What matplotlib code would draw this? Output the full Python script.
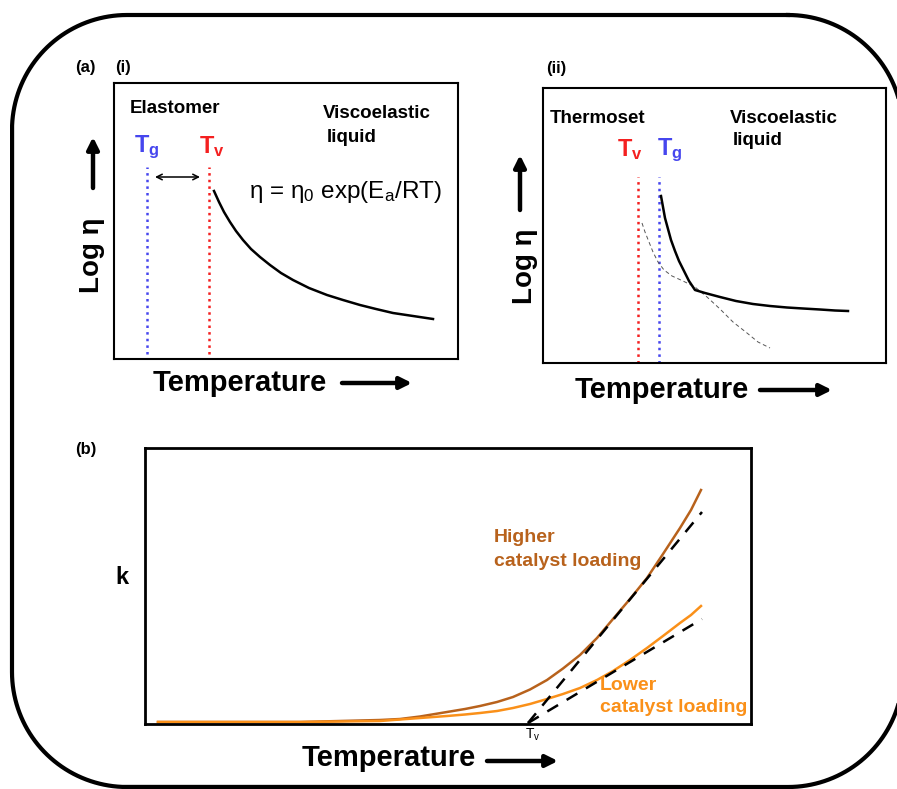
import matplotlib
matplotlib.use("Agg")
import numpy as np
import matplotlib.pyplot as plt

plt.rcParams['font.family'] = ['Liberation Sans', 'DejaVu Sans']
plt.rcParams['mathtext.fontset'] = 'custom'
plt.rcParams['mathtext.rm'] = 'Liberation Sans'
plt.rcParams['mathtext.it'] = 'Liberation Sans:italic'
plt.rcParams['mathtext.bf'] = 'Liberation Sans:bold'

W, H = 897, 789

# ---- data (local axes units) ----
# panel (i): Arrhenius viscosity drop above Tv
i_tg = 33
i_tv = 95
i_x = [100, 105, 110, 116, 122, 129, 137, 146, 156, 167, 179, 195, 213,
       229, 246, 262, 279, 299, 319]
i_y = [168, 157, 147, 137, 128, 119, 110, 102, 94, 86, 79, 71, 64,
       59, 54, 50, 46, 43, 40]

# panel (ii): Tv below Tg
ii_tv = 95
ii_tg = 116
ii_x = [118, 120, 122, 125, 128, 132, 136, 141, 146, 152,
        162, 177, 193, 210, 227, 244, 260, 277, 292, 305]
ii_y = [167, 156, 145, 134, 123, 112, 102, 92, 82, 73,
        70, 66, 62, 59, 57, 55.5, 54.5, 53.5, 52.5, 52]
ii_dash_x = [99, 102, 106, 110, 115, 121, 129, 140, 152, 164, 177, 190,
             204, 215, 227]
ii_dash_y = [140, 131, 121, 111, 101, 93, 87, 82, 76, 66, 54, 41,
             30, 21, 15]

# panel (b): rate constant k vs temperature
b_hi_x = [13, 155, 235, 255, 275, 302, 320, 335, 352, 368, 385, 402, 418,
          435, 452, 468, 485, 502, 518, 535, 546, 556]
b_hi_y = [2, 2, 4, 5, 7.5, 12, 15, 18, 22, 27, 34.5, 44, 55.5,
          69, 86, 105, 125, 146, 170, 196, 214, 234]
b_lo_x = [13, 155, 235, 275, 302, 320, 335, 352, 368, 385, 402, 418, 435,
          452, 468, 485, 502, 518, 535, 546, 556]
b_lo_y = [2, 2, 3, 6, 8, 9.5, 11, 13, 16, 20, 25, 30, 36,
          44, 53, 64, 76, 88, 101, 109, 118]
b_tv = 383
b_tan_hi = [(b_tv, 1), (557, 212)]
b_tan_lo = [(b_tv, 1), (557, 105)]

fig = plt.figure(figsize=(W / 100, H / 100), dpi=100)
bg = fig.add_axes([0, 0, 1, 1])
bg.set_xlim(0, W)
bg.set_ylim(H, 0)
bg.axis('off')

# outer rounded frame (pixel coords, y down)
fx0, fy0, fx1, fy1, rr = 12, 15, 903, 787, 115
fx, fy = [], []
for cx, cy, a0 in [(fx1 - rr, fy0 + rr, -90), (fx1 - rr, fy1 - rr, 0),
                   (fx0 + rr, fy1 - rr, 90), (fx0 + rr, fy0 + rr, 180)]:
    a = np.radians(np.linspace(a0, a0 + 90, 40))
    fx.extend(cx + rr * np.cos(a))
    fy.extend(cy + rr * np.sin(a))
fx.append(fx[0])
fy.append(fy[0])
bg.plot(fx, fy, color='black', lw=3, clip_on=False)


def px_axes(l, t, r, b, lw=1.5):
    ax = fig.add_axes([l / W, 1 - b / H, (r - l) / W, (b - t) / H])
    ax.set_xlim(0, r - l)
    ax.set_ylim(0, b - t)
    ax.set_xticks([])
    ax.set_yticks([])
    ax.patch.set_visible(False)
    for s in ax.spines.values():
        s.set_linewidth(lw)
    return ax


blue = '#4646EE'
red = '#F42020'
brown = '#B8621C'
orange = '#FA9019'

# (i)
ax1 = px_axes(114, 83, 458, 359)
ax1.plot([i_tg, i_tg], [5, 192], ls=':', color=blue, lw=1.8)
ax1.plot([i_tv, i_tv], [5, 192], ls=':', color=red, lw=1.8)
ax1.plot(i_x, i_y, color='black', lw=1.8, solid_joinstyle='round')
ax1.annotate('', xy=(41, 182), xytext=(86, 182),
             arrowprops=dict(arrowstyle='<->', lw=1.1, color='black',
                             shrinkA=0, shrinkB=0))

# (ii)
ax2 = px_axes(543, 88, 886, 363)
ax2.plot([ii_tv, ii_tv], [0, 186], ls=':', color=red, lw=1.8)
ax2.plot([ii_tg, ii_tg], [0, 186], ls=':', color=blue, lw=1.8)
ax2.plot(ii_dash_x, ii_dash_y, ls=(0, (4, 3)), color='#555555', lw=0.7)
ax2.plot(ii_x, ii_y, color='black', lw=1.8, solid_joinstyle='round')

# (b)
ax3 = px_axes(145, 448, 751, 724, lw=2)
ax3.plot(b_hi_x, b_hi_y, color=brown, lw=1.8, solid_joinstyle='round')
ax3.plot(b_lo_x, b_lo_y, color=orange, lw=1.8, solid_joinstyle='round')
for seg in (b_tan_hi, b_tan_lo):
    ax3.plot([p[0] for p in seg], [p[1] for p in seg], color='black',
             lw=1.8, ls=(0, (5, 4)))


# ---- text ----
def t(x, y, s, size, **kw):
    kw.setdefault('weight', 'bold')
    bg.text(x, y, s, fontsize=size, ha=kw.pop('ha', 'center'),
            va=kw.pop('va', 'center'), **kw)


t(85, 67, '(a)', 12)
t(123, 67, '(i)', 12)
t(556, 68, '(ii)', 12)
t(86, 449, '(b)', 12)

t(175, 108, 'Elastomer', 13.5)
t(377, 113, 'Viscoelastic', 13.5)
t(327, 137, 'liquid', 13.5, ha='left')
t(550, 118, 'Thermoset', 13.5, ha='left')
t(784, 118, 'Viscoelastic', 13.5)
t(733, 140, 'liquid', 13.5, ha='left')

t(147, 147, r'$\mathbf{T_g}$', 17, color=blue)
t(212, 147, r'$\mathbf{T_v}$', 17, color=red)
t(630, 150, r'$\mathbf{T_v}$', 17, color=red)
t(670, 150, r'$\mathbf{T_g}$', 17, color=blue)

t(345, 192, r'η = η$_0$ exp(E$_\mathrm{a}$/RT)', 17.5, weight='normal')

t(240, 383, 'Temperature', 21)
t(662, 390, 'Temperature', 21)
t(389, 758, 'Temperature', 21)
t(92, 255, 'Log η', 20, rotation=90)
t(525, 266, 'Log η', 20, rotation=90)
t(122, 578, 'k', 17)
t(533, 735, r'$\mathrm{T_v}$', 10, weight='normal')

t(494, 538, 'Higher', 14, ha='left', color=brown)
t(494, 562, 'catalyst loading', 14, ha='left', color=brown)
t(600, 685, 'Lower', 14, ha='left', color=orange)
t(600, 708, 'catalyst loading', 14, ha='left', color=orange)

arrow = dict(arrowstyle='-|>,head_width=0.35,head_length=0.7', lw=3.2,
             color='black', shrinkA=0, shrinkB=0)
for (x0, y0, x1, y1) in [(342, 383, 412, 383), (760, 390, 832, 390),
                         (487, 761, 558, 761), (93, 188, 93, 137),
                         (520, 210, 520, 155)]:
    bg.annotate('', xy=(x1, y1), xytext=(x0, y0), arrowprops=arrow)

fig.savefig('out.png', dpi=100)
